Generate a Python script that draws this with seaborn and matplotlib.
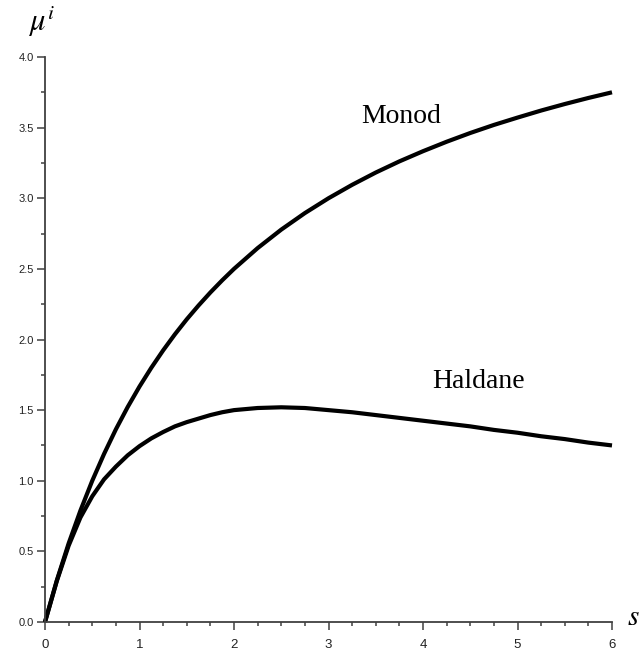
import matplotlib
matplotlib.use("Agg")
import matplotlib.pyplot as plt
from matplotlib.ticker import MultipleLocator, FormatStrFormatter
import seaborn as sns
import pandas as pd

# substrate concentration s
s_values = [0, 0.125, 0.25, 0.375, 0.5, 0.625, 0.75, 0.875, 1.0, 1.125, 1.25, 1.375,
            1.5, 1.625, 1.75, 1.875, 2.0, 2.25, 2.5, 2.75, 3.0, 3.25, 3.5, 3.75,
            4.0, 4.25, 4.5, 4.75, 5.0, 5.25, 5.5, 5.75, 6.0]
monod = [0, 0.294, 0.556, 0.789, 1.00, 1.19, 1.364, 1.522, 1.667, 1.80, 1.923, 2.037,
         2.143, 2.241, 2.333, 2.419, 2.50, 2.647, 2.778, 2.895, 3.00, 3.095, 3.182, 3.261,
         3.333, 3.40, 3.462, 3.519, 3.571, 3.621, 3.667, 3.710, 3.75]
haldane = [0, 0.29, 0.54, 0.74, 0.89, 1.01, 1.10, 1.18, 1.245, 1.30, 1.345, 1.385,
           1.415, 1.44, 1.465, 1.485, 1.50, 1.515, 1.52, 1.515, 1.50, 1.485, 1.465, 1.445,
           1.425, 1.405, 1.385, 1.36, 1.34, 1.315, 1.295, 1.27, 1.25]

x_ticks = [0, 1, 2, 3, 4, 5, 6]
y_ticks = [0.0, 0.5, 1.0, 1.5, 2.0, 2.5, 3.0, 3.5, 4.0]

df = pd.DataFrame({"s": s_values * 2,
                   "mu": monod + haldane,
                   "model": ["Monod"] * len(s_values) + ["Haldane"] * len(s_values)})

sns.set_style("ticks")
plt.rcParams["font.family"] = ["Liberation Sans", "DejaVu Sans"]
plt.rcParams["mathtext.fontset"] = "stix"

fig = plt.figure(figsize=(6.41, 6.54), dpi=100)
ax = fig.add_axes([45 / 641, 1 - 622 / 654, (612 - 45) / 641, (622 - 57) / 654])

sns.lineplot(data=df, x="s", y="mu", hue="model", palette=["black", "black"],
             linewidth=3, legend=False, ax=ax, clip_on=False,
             solid_joinstyle="round", solid_capstyle="butt")

ax.set_xlim(0, 6)
ax.set_ylim(0, 4)
ax.set_xticks(x_ticks)
ax.set_yticks(y_ticks)
ax.xaxis.set_minor_locator(MultipleLocator(0.25))
ax.yaxis.set_minor_locator(MultipleLocator(0.25))
ax.yaxis.set_major_formatter(FormatStrFormatter("%.1f"))
ax.set_xlabel("")
ax.set_ylabel("")

sns.despine(ax=ax)
spine_col = "#404040"
for sp in ["left", "bottom"]:
    ax.spines[sp].set_color(spine_col)
    ax.spines[sp].set_linewidth(1.3)

ax.tick_params(axis="both", which="major", direction="out", length=6, width=1.1,
               color=spine_col, labelcolor="#222222")
ax.tick_params(axis="both", which="minor", direction="out", length=3, width=1.1,
               color=spine_col)
ax.tick_params(axis="y", which="major", labelsize=8, pad=2)
ax.tick_params(axis="x", which="major", labelsize=9.5, pad=6)

ax.text(3.35, 3.53, "Monod", family="Liberation Serif", fontsize=20, color="black")
ax.text(4.10, 1.66, "Haldane", family="Liberation Serif", fontsize=20, color="black")

fig.text(28 / 641, 1 - 31 / 654, r"$\mu^{i}$", fontsize=22, color="black")
fig.text(627 / 641, 1 - 625 / 654, r"$s$", fontsize=21, color="black")

fig.savefig("out.png", dpi=100)
